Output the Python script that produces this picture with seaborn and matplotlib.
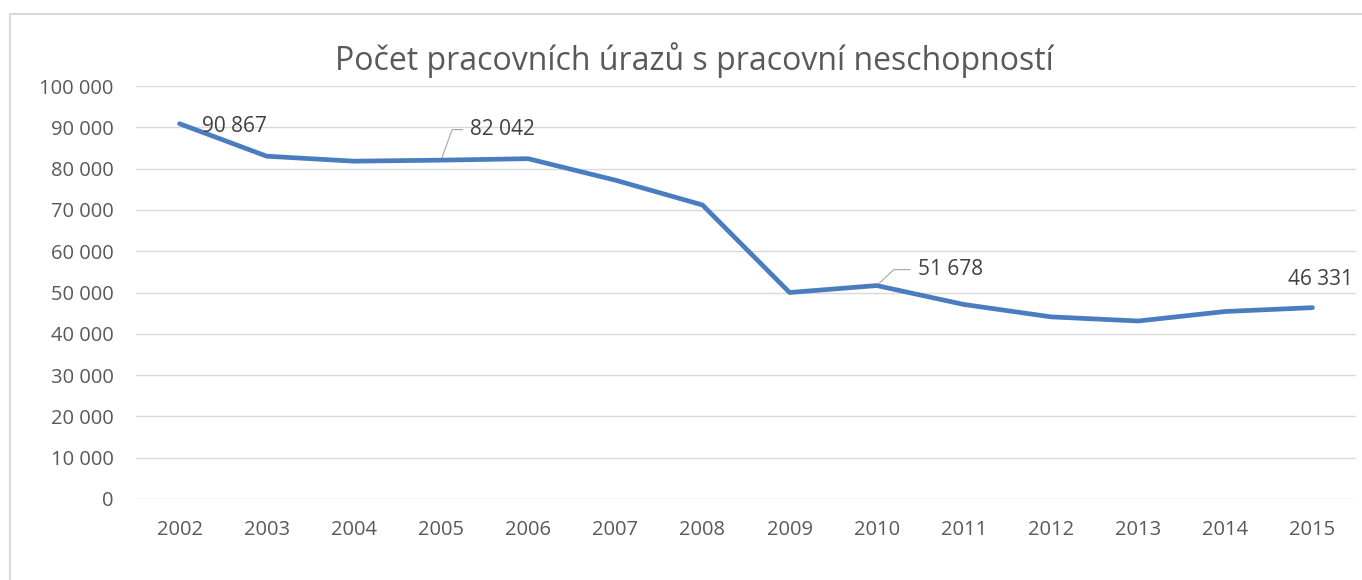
import matplotlib
matplotlib.use('Agg')
import matplotlib.pyplot as plt
import matplotlib.ticker as mticker
from matplotlib.lines import Line2D
import pandas as pd
import seaborn as sns

# data
roky = ['2002', '2003', '2004', '2005', '2006', '2007', '2008',
        '2009', '2010', '2011', '2012', '2013', '2014', '2015']
urazy = [90867, 83000, 81800, 82042, 82400, 77200, 71200,
         50000, 51678, 47100, 44100, 43100, 45400, 46331]
titulek = 'Počet pracovních úrazů s pracovní neschopností'

df = pd.DataFrame({'rok': roky, 'urazy': urazy})

sns.set_theme(style='white')
plt.rcParams['font.family'] = ['Open Sans', 'DejaVu Sans']

fig = plt.figure(figsize=(13.62, 5.8), dpi=100)
ax = fig.add_axes([136 / 1362, 1 - 499 / 580, 1220 / 1362, 413 / 580])

sns.lineplot(data=df, x='rok', y='urazy', color='#4A7DBF', linewidth=3.4,
             ax=ax, zorder=3)

ax.set_xlim(-0.5, len(roky) - 0.5)
ax.set_ylim(0, 100000)
ax.yaxis.set_major_locator(mticker.MultipleLocator(10000))
ax.yaxis.set_major_formatter(
    mticker.FuncFormatter(lambda v, p: f'{v:,.0f}'.replace(',', ' ')))
ax.grid(axis='y', color='#D9D9D9', linewidth=1.0)
ax.set_axisbelow(True)
for s in ax.spines.values():
    s.set_visible(False)
ax.tick_params(axis='both', length=0, labelsize=14.5, labelcolor='#595959')
ax.tick_params(axis='y', pad=16)
ax.tick_params(axis='x', pad=15)
ax.set_xlabel('')
ax.set_ylabel('')

# popisky hodnot
lbl = dict(fontsize=15, color='#404040', va='center')
vodic = dict(arrowstyle='-', color='#A6A6A6', lw=0.8, shrinkA=3, shrinkB=2,
             relpos=(0, 0.5))

ax.annotate(f'{urazy[0]:,}'.replace(',', ' '), xy=(0, urazy[0]),
            xytext=(16, -2), textcoords='offset points', ha='left', **lbl)
ax.annotate(f'{urazy[3]:,}'.replace(',', ' '), xy=(3, urazy[3]),
            xytext=(21, 22), textcoords='offset points', ha='left',
            arrowprops=dict(connectionstyle='angle,angleA=180,angleB=70,rad=0',
                            **vodic), **lbl)
ax.annotate(f'{urazy[8]:,}'.replace(',', ' '), xy=(8, urazy[8]),
            xytext=(29.5, 11.5), textcoords='offset points', ha='left',
            arrowprops=dict(connectionstyle='angle,angleA=180,angleB=43,rad=0',
                            **vodic), **lbl)
ax.annotate(f'{urazy[13]:,}'.replace(',', ' '), xy=(13, urazy[13]),
            xytext=(6, 20), textcoords='offset points', ha='center', **lbl)

fig.text(694 / 1362, 1 - 60 / 580, titulek, ha='center', va='center',
         fontsize=23, color='#595959')

# ramecek grafu (horni a leva hrana)
fig.add_artist(Line2D([10 / 1362, 1], [1 - 14 / 580, 1 - 14 / 580],
                      color='#D9D9D9', lw=1.5, transform=fig.transFigure))
fig.add_artist(Line2D([10 / 1362, 10 / 1362], [0, 1 - 14 / 580],
                      color='#D9D9D9', lw=1.5, transform=fig.transFigure))

plt.savefig('out.png', dpi=100)
